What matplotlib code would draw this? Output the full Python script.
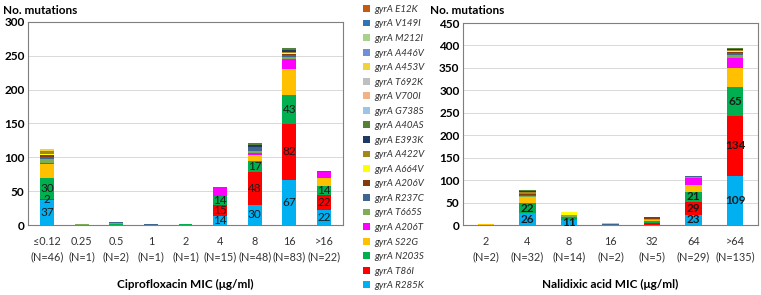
import numpy as np
import matplotlib.pyplot as plt

plt.rcParams['font.family'] = ['Lato', 'DejaVu Sans']

# mutations, bottom of stack first
mutations = ['R285K', 'T86I', 'N203S', 'S22G', 'A206T', 'T665S', 'R237C', 'A206V',
             'A664V', 'A422V', 'E393K', 'A40AS', 'G738S', 'V700I', 'T692K', 'A453V',
             'A446V', 'M212I', 'V149I', 'E12K']
colors = ['#00B0F0', '#FF0000', '#00B050', '#FFC000', '#FF00FF', '#7DAE55', '#3D6690', '#843C0C',
          '#FFFF00', '#A5861C', '#203864', '#548235', '#9DC3E6', '#F4B183', '#BFBFBF', '#F2D13A',
          '#6F8FD8', '#A9D18E', '#2E75B6', '#C55A11']

# Ciprofloxacin
cip_labels = ['≤0.12\n(N=46)', '0.25\n(N=1)', '0.5\n(N=2)', '1\n(N=1)', '2\n(N=1)',
              '4\n(N=15)', '8\n(N=48)', '16\n(N=83)', '>16\n(N=22)']
cip = {
    'R285K': [37, 0, 0, 0, 0, 14, 30, 67, 22],
    'T86I':  [2, 0, 0, 0, 0, 15, 48, 82, 22],
    'N203S': [30, 0, 2, 0, 1, 14, 17, 43, 14],
    'S22G':  [21, 0, 0, 0, 0, 0, 8, 38, 12],
    'A206T': [2, 0, 0, 0, 0, 13, 4, 15, 8],
    'T665S': [5, 1, 1, 0, 0, 0, 2, 4, 1],
    'R237C': [4, 0, 1, 1, 0, 0, 6, 2, 1],
    'A206V': [2, 0, 0, 0, 0, 0, 0, 2, 0],
    'A664V': [2, 1, 0, 0, 0, 0, 0, 1, 0],
    'A422V': [4, 0, 0, 0, 0, 0, 0, 2, 0],
    'E393K': [1, 0, 0, 0, 0, 0, 3, 2, 0],
    'A40AS': [0, 0, 0, 0, 1, 0, 3, 3, 0],
    'A453V': [3, 0, 0, 0, 0, 0, 0, 0, 0],
    'E12K':  [0, 0, 1, 0, 0, 0, 0, 0, 0],
}
# segments that carry a number in the original
cip_numbered = {'R285K': [0, 5, 6, 7, 8], 'T86I': [0, 5, 6, 7, 8], 'N203S': [0, 5, 6, 7, 8]}

# Nalidixic acid
nal_labels = ['2\n(N=2)', '4\n(N=32)', '8\n(N=14)', '16\n(N=2)', '32\n(N=5)',
              '64\n(N=29)', '>64\n(N=135)']
nal = {
    'R285K': [0, 26, 11, 0, 0, 23, 109],
    'T86I':  [0, 0, 0, 0, 5, 29, 134],
    'N203S': [0, 22, 6, 0, 3, 21, 65],
    'S22G':  [2, 14, 0, 0, 3, 15, 42],
    'A206T': [0, 0, 0, 0, 0, 17, 23],
    'T665S': [0, 3, 6, 0, 2, 2, 6],
    'R237C': [0, 2, 0, 3, 1, 2, 4],
    'A206V': [1, 3, 0, 0, 3, 0, 2],
    'A664V': [0, 0, 5, 0, 0, 0, 2],
    'A422V': [0, 4, 1, 0, 0, 0, 3],
    'E393K': [0, 2, 0, 0, 0, 0, 1],
    'A40AS': [0, 2, 0, 0, 0, 1, 4],
    'T692K': [0, 0, 0, 2, 0, 0, 0],
}
nal_numbered = {'R285K': [1, 2, 5, 6], 'T86I': [5, 6], 'N203S': [1, 5, 6]}


def draw(ax, cats, data, numbered, ymax, step, xlabel, bold_nums):
    x = np.arange(len(cats))
    bottom = np.zeros(len(cats))
    for m, c in zip(mutations, colors):
        vals = np.array(data.get(m, [0] * len(cats)), dtype=float)
        ax.bar(x, vals, 0.4, bottom=bottom, color=c, label='gyrA ' + m, zorder=3)
        for i in numbered.get(m, []):
            ax.text(x[i], bottom[i] + vals[i] / 2, str(int(vals[i])), ha='center', va='center',
                    fontsize=8.5, color='#1a1a1a',
                    fontweight='bold' if bold_nums else 'normal', zorder=4)
        bottom += vals
    ax.set_ylim(0, ymax)
    ax.set_yticks(np.arange(0, ymax + 1, step))
    ax.set_xlim(-0.55, len(cats) - 0.45)
    ax.set_xticks(x)
    ax.set_xticklabels(cats, fontsize=7.8, color='#333333', linespacing=1.5)
    ax.tick_params(axis='y', labelsize=8.5, length=0, pad=2.5)
    ax.tick_params(axis='x', length=0, pad=8)
    for t in ax.get_yticklabels():
        t.set_fontweight('bold')
    ax.grid(axis='y', color='#d9d9d9', linewidth=0.7, zorder=0)
    for s in ax.spines.values():
        s.set_color('#7f7f7f')
        s.set_linewidth(0.8)
    ax.set_xlabel(xlabel, fontsize=8.5, fontweight='bold', labelpad=12)


fig = plt.figure(figsize=(7.61, 2.95), dpi=100)
ax1 = fig.add_axes([28 / 761, 70 / 295, 315 / 761, 203 / 295])
ax2 = fig.add_axes([463 / 761, 70 / 295, 295 / 761, 202 / 295])

draw(ax1, cip_labels, cip, cip_numbered, 300, 50, 'Ciprofloxacin MIC (μg/ml)', False)
draw(ax2, nal_labels, nal, nal_numbered, 450, 50, 'Nalidixic acid MIC (μg/ml)', True)

fig.text(3 / 761, 1 - 10 / 295, 'No. mutations', fontsize=8.5, fontweight='bold', va='center')
fig.text(430 / 761, 1 - 10 / 295, 'No. mutations', fontsize=8.5, fontweight='bold', va='center')

handles, labels = ax1.get_legend_handles_labels()
leg = fig.legend(handles[::-1], labels[::-1], loc='upper left',
                 bbox_to_anchor=(359 / 761, 1 - 1 / 295), frameon=False,
                 fontsize=7, handlelength=0.7, handleheight=0.7,
                 handletextpad=0.5, labelspacing=0.57, borderaxespad=0)
for t in leg.get_texts():
    t.set_fontstyle('italic')
    t.set_color('#333333')

fig.savefig('out.png', dpi=100)
